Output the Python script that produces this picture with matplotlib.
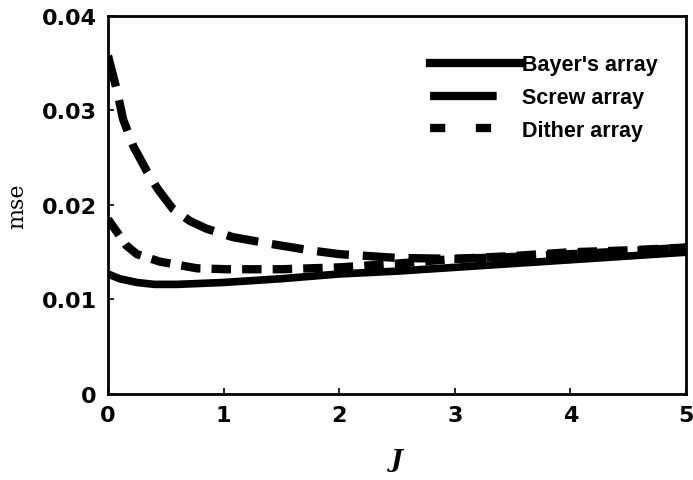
import matplotlib

matplotlib.use('Agg')
import matplotlib.pyplot as plt
from matplotlib.lines import Line2D

# values
J_bayer = [0.0, 0.1, 0.25, 0.4, 0.6, 0.8, 1.0, 1.25, 1.5, 2.0, 2.5, 3.0, 3.5, 4.0, 4.5, 5.0]
bayer = [0.0127, 0.0122, 0.0118, 0.0116, 0.0116, 0.0117, 0.0118, 0.0120, 0.0122, 0.0127,
         0.0130, 0.0134, 0.0138, 0.0142, 0.0146, 0.0150]

J_screw = [0.0, 0.08, 0.13, 0.22, 0.34, 0.43, 0.56, 0.71, 0.85, 1.08, 1.4, 1.75, 2.0, 2.5,
           3.0, 3.5, 4.0, 4.5, 5.0]
screw = [0.0358, 0.0320, 0.0291, 0.0262, 0.0235, 0.0217, 0.0196, 0.0183, 0.0175, 0.0166,
         0.0159, 0.0152, 0.0148, 0.0144, 0.0143, 0.0145, 0.0148, 0.0151, 0.0155]

J_dither = [0.0, 0.16, 0.25, 0.45, 0.77, 1.03, 1.25, 1.5, 2.0, 2.5, 3.0, 3.5, 4.0, 4.5, 5.0]
dither = [0.0185, 0.0157, 0.0148, 0.0140, 0.0133, 0.0132, 0.0132, 0.0132, 0.0134, 0.0138,
          0.0143, 0.0146, 0.0150, 0.0152, 0.0155]

xticks = [0, 1, 2, 3, 4, 5]
yticks = [0, 0.01, 0.02, 0.03, 0.04]
ytick_labels = ['0', '0.01', '0.02', '0.03', '0.04']

plt.rcParams['lines.scale_dashes'] = False
plt.rcParams['font.family'] = 'Liberation Sans'

fig = plt.figure(figsize=(6.93, 4.81), dpi=100)
ax = fig.add_axes([0.1558, 0.1788, 0.8341, 0.7859])

ax.plot(J_bayer, bayer, color='black', linewidth=5.5, solid_capstyle='butt')
ax.plot(J_screw, screw, color='black', linewidth=6, dashes=(23, 10))
ax.plot(J_dither, dither, color='black', linewidth=6, dashes=(14, 8))

ax.set_xlim(0, 5)
ax.set_ylim(0, 0.04)
ax.set_xticks(xticks)
ax.set_yticks(yticks)
ax.set_yticklabels(ytick_labels)
ax.tick_params(direction='in', length=4, width=1.2, labelsize=16, pad=8)
for lbl in ax.get_xticklabels() + ax.get_yticklabels():
    lbl.set_fontweight('bold')
    lbl.set_family('DejaVu Sans')
for sp in ax.spines.values():
    sp.set_linewidth(2)

ax.set_ylabel('mse', family='DejaVu Serif', fontsize=16, labelpad=10)
ax.set_xlabel('J', family='DejaVu Serif', fontsize=18, fontweight='bold', style='italic', labelpad=16)

# legend proxies, drawn like the reference legend
handles = [
    Line2D([], [], color='black', linewidth=6),
    Line2D([], [], color='black', linewidth=6, dashes=(48, 20)),
    Line2D([], [], color='black', linewidth=6, dashes=(11, 22)),
]
labels = ["Bayer's array", 'Screw array', 'Dither array']
ax.legend(handles, labels, loc='upper right', bbox_to_anchor=(0.985, 0.95), frameon=False,
          handlelength=4.2, handletextpad=0.1, labelspacing=0.55,
          prop={'weight': 'bold', 'size': 15.5})

fig.savefig('out.png', dpi=100)
